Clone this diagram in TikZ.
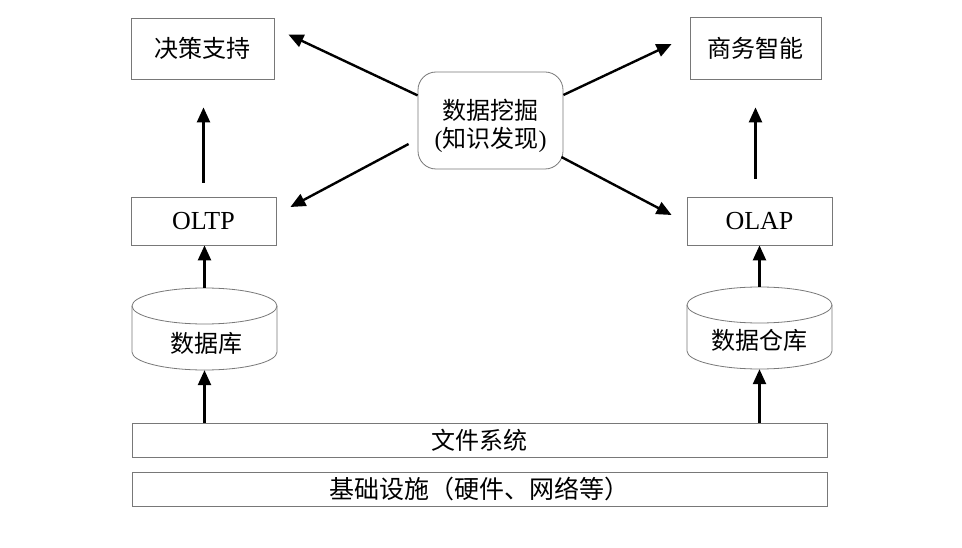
\documentclass[tikz,border=0pt]{standalone}
\usepackage{fontspec}
\setmainfont{Liberation Serif}
\newfontfamily\cjk{Noto Sans CJK SC}
\usetikzlibrary{arrows.meta,calc}
\definecolor{boxgray}{RGB}{120,120,120}
\begin{document}
\begin{tikzpicture}[x=1pt,y=-1pt,
  box/.style={draw=boxgray,line width=0.8pt,inner sep=0pt,font=\fontsize{24}{28}\selectfont},
  latinbox/.style={box,font=\fontsize{26}{30}\selectfont},
  cylbody/.style={inner sep=0pt,minimum width=145pt,minimum height=82pt},
  cylline/.style={draw=boxgray,line width=0.8pt},
  lbl/.style={font=\fontsize{24}{28}\selectfont},
  arr/.style={line width=2.4pt,-{Triangle[length=15pt,width=13pt]}}]
\useasboundingbox[fill=white] (0,0) rectangle (962,548);

% boxes
\node[box,minimum width=143pt,minimum height=61pt] (dec) at (202.5,48.5) {\cjk 决策支持};
\node[box,minimum width=131pt,minimum height=62pt] (bi) at (755.5,48) {\cjk 商务智能};
\node[box,rounded corners=18pt,minimum width=145pt,minimum height=97pt,
  label={[lbl,align=center,yshift=-5pt]center:{{\cjk 数据挖掘}\\({\cjk 知识发现})}}] (mine) at (490.5,120.5) {};
\node[latinbox,minimum width=145pt,minimum height=48pt] (oltp) at (203.5,221) {OLTP};
\node[latinbox,minimum width=145pt,minimum height=48pt] (olap) at (759.5,221) {OLAP};

% cylinders
\node[cylbody] (db) at (204.5,329) {};
\draw[cylline] (204.5,306) ellipse [x radius=72.5pt,y radius=18pt];
\draw[cylline] (132,306) -- (132,352) arc[start angle=180,end angle=360,x radius=72.5pt,y radius=18pt] -- (277,306);
\node[lbl] (dbt) at (206,343) {\cjk 数据库};

\node[cylbody] (dw) at (759.5,328) {};
\draw[cylline] (759.5,305) ellipse [x radius=72.5pt,y radius=18pt];
\draw[cylline] (687,305) -- (687,351) arc[start angle=180,end angle=360,x radius=72.5pt,y radius=18pt] -- (832,305);
\node[lbl] (dwt) at (759.5,340) {\cjk 数据仓库};

% bars
\node[box,minimum width=695pt,minimum height=34pt] (fs) at (479.5,440) {\cjk 文件系统};
\node[box,minimum width=695pt,minimum height=34pt,font=\fontsize{25}{28}\selectfont] (infra) at (479.5,489) {\cjk 基础设施（硬件、网络等）};

% vertical arrows
\draw[arr,shorten <=14pt,shorten >=28pt] (oltp.north) -- (oltp.north |- dec.south);
\draw[arr,shorten <=18pt,shorten >=28pt] (bi.south |- olap.north) -- (bi.south);
\draw[arr] (db.north) -- (db.north |- oltp.south);
\draw[arr] (dw.north) -- (dw.north |- olap.south);
\draw[arr] (fs.north -| db.south) -- (db.south);
\draw[arr] (fs.north -| dw.south) -- (dw.south);

% diagonal arrows
\draw[arr] (mine.161.8) -- ($(dec.east)+(14,-14)$);
\draw[arr] ($(mine.west)+(-9,23.5)$) -- ($(oltp.east)+(14,-14)$);
\draw[arr] ($(mine.east)+(0,-25.5)$) -- ($(bi.west)+(-18,-4)$);
\draw[arr] ($(mine.east)+(-2,36.5)$) -- ($(olap.west)+(-15,-6)$);
\end{tikzpicture}
\end{document}
